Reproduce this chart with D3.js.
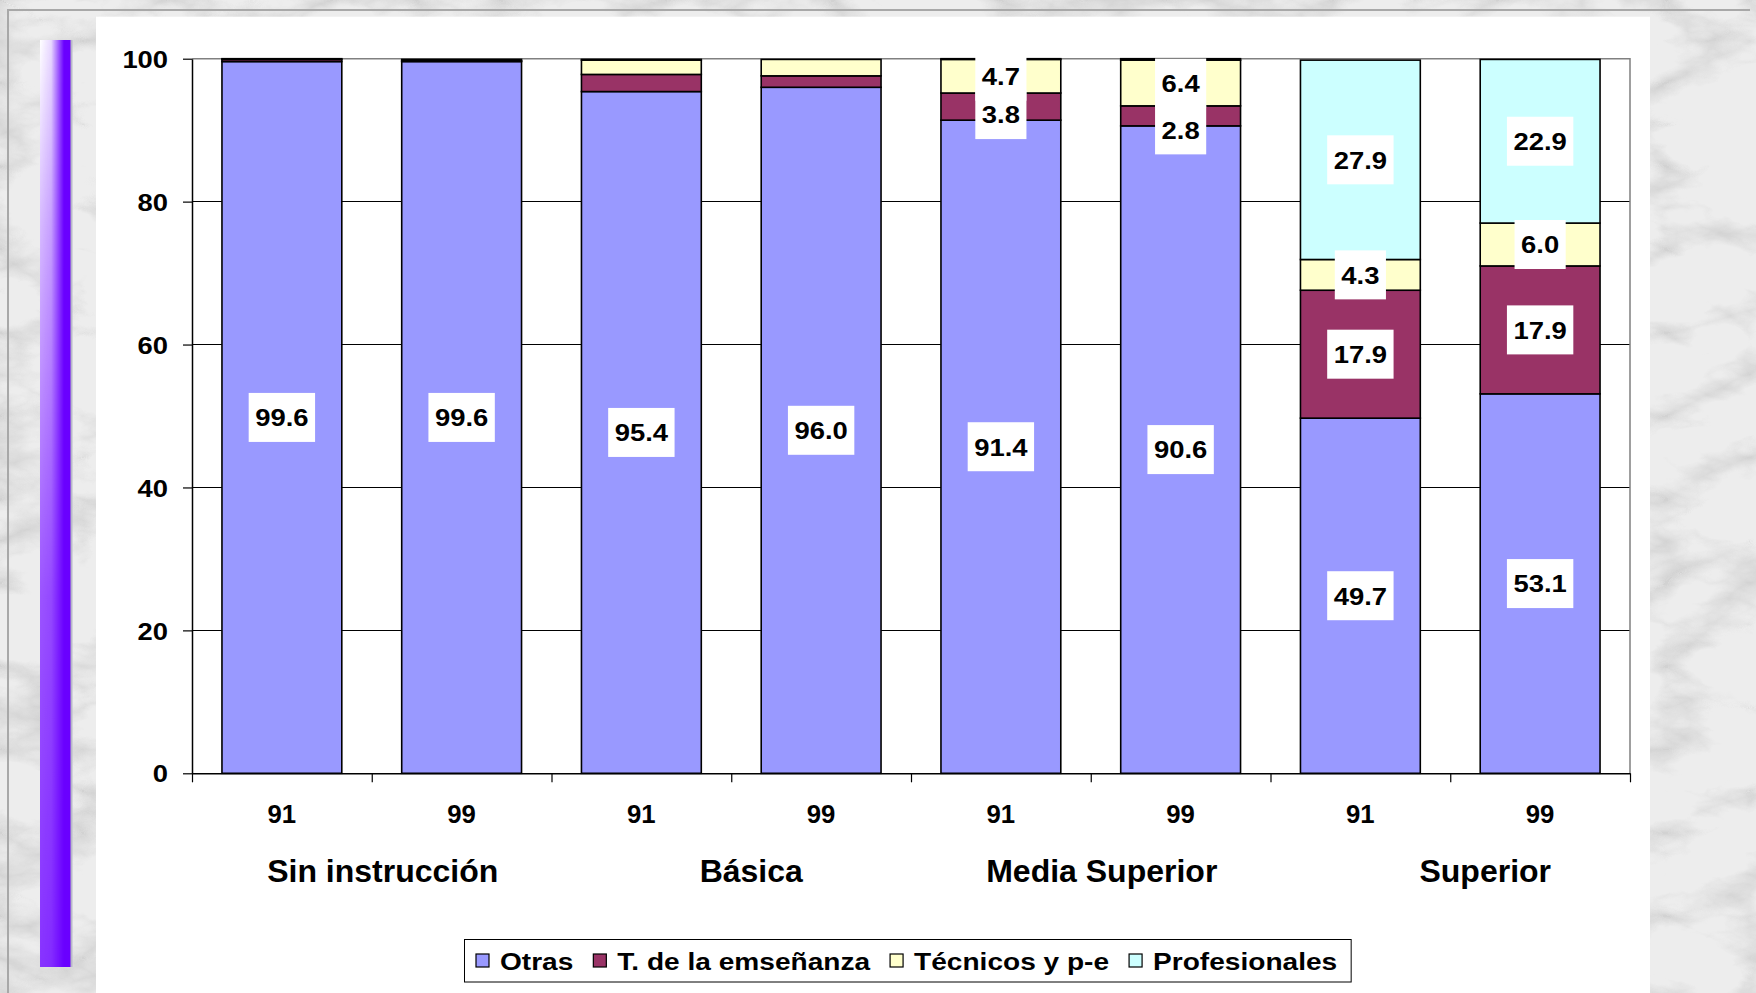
<!DOCTYPE html>
<html>
<head>
<meta charset="utf-8">
<script src="https://cdn.jsdelivr.net/npm/d3@7"></script>
<style>
  html, body { margin: 0; padding: 0; background: #e6e6e6; }
  svg { display: block; }
  text { font-family: "Liberation Sans", Arial, Helvetica, sans-serif; font-weight: bold; fill: #000; }
</style>
</head>
<body>
<svg id="chart" width="1756" height="993"></svg>
<script>
// ---- data ----
const groups = ["Sin instrucción", "Básica", "Media Superior", "Superior"];
const years = ["91", "99"];
const seriesNames = ["Otras", "T. de la emseñanza", "Técnicos y p-e", "Profesionales"];
const otras         = [99.6, 99.6, 95.4, 96.0, 91.4, 90.6, 49.7, 53.1];
const ensenanza     = [0.3, 0.1, 2.4, 1.6, 3.8, 2.8, 17.9, 17.9];
const tecnicos      = [0.1, 0.2, 2.0, 2.3, 4.7, 6.4, 4.3, 6.0];
const profesionales = [0.0, 0.0, 0.1, 0.0, 0.1, 0.2, 27.9, 22.9];
const yTicks = [0, 20, 40, 60, 80, 100];

// ---- styling / layout ----
const colors = ["#9999ff", "#993366", "#ffffcc", "#ccffff"];
const W = 1756, H = 993;
const plot = { left: 192, right: 1630, top: 58.7, bottom: 773.3 };
const labelMin = 2.5;               // segments thinner than this carry no label
const labelNudge = { "4|1": 8, "5|1": 14 };   // bar|series -> extra dy
const groupLabelDx = [11, 20, 11, 35];
const FONT = '"Liberation Sans", Arial, Helvetica, sans-serif';

const svg = d3.select("#chart");
const defs = svg.append("defs");

// marble backdrop
const marble = defs.append("filter").attr("id", "marble")
  .attr("x", 0).attr("y", 0).attr("width", "100%").attr("height", "100%");
marble.append("feTurbulence").attr("type", "turbulence")
  .attr("baseFrequency", "0.006 0.012").attr("numOctaves", 5).attr("seed", 7).attr("result", "t");
marble.append("feColorMatrix").attr("in", "t").attr("type", "matrix")
  .attr("values", "0 0 0 0 0.5  0 0 0 0 0.5  0 0 0 0 0.5  -2.2 0 0 0 0.75");
svg.append("rect").attr("width", W).attr("height", H).attr("fill", "#ededed");
svg.append("rect").attr("width", W).attr("height", H).attr("filter", "url(#marble)").attr("opacity", 0.75);

// thin outer frame
svg.append("path")
  .attr("d", `M8,${H} V10 H${W - 6}`)
  .attr("fill", "none").attr("stroke", "#a8a8a8").attr("stroke-width", 2);

// white chart panel
svg.append("rect").attr("x", 96).attr("y", 16.7).attr("width", 1650 - 96).attr("height", H - 16.7)
  .attr("fill", "#ffffff");

// decorative purple strip
const hg = defs.append("linearGradient").attr("id", "stripH").attr("x1", 0).attr("x2", 1).attr("y1", 0).attr("y2", 0);
[[0, "#ffffff", 1], [0.35, "#ffffff", 0.85], [0.75, "#ffffff", 0.0], [1, "#ffffff", 0]].forEach(s =>
  hg.append("stop").attr("offset", s[0]).attr("stop-color", s[1]).attr("stop-opacity", s[2]));
const vg = defs.append("linearGradient").attr("id", "stripV").attr("x1", 0).attr("x2", 0).attr("y1", 0).attr("y2", 1);
[[0, "#ffffff"], [0.2, "#bbbbbb"], [0.6, "#555555"], [1, "#333333"]].forEach(s =>
  vg.append("stop").attr("offset", s[0]).attr("stop-color", s[1]));
const mask = defs.append("mask").attr("id", "stripMask");
mask.append("rect").attr("x", 40).attr("y", 40).attr("width", 32).attr("height", 927).attr("fill", "url(#stripV)");
svg.append("rect").attr("x", 40).attr("y", 40).attr("width", 32).attr("height", 927).attr("fill", "#6a00ff");
svg.append("rect").attr("x", 40).attr("y", 40).attr("width", 32).attr("height", 927)
  .attr("fill", "url(#stripH)").attr("mask", "url(#stripMask)");
svg.append("rect").attr("x", 70.5).attr("y", 40).attr("width", 2).attr("height", 927).attr("fill", "#b8b8c8");

// ---- scales ----
const bars = [];
groups.forEach((g, gi) => years.forEach((yv, yi) => bars.push({ key: g + "|" + yv, group: g, year: yv, i: gi * years.length + yi })));
const seriesArrays = [otras, ensenanza, tecnicos, profesionales];
const table = bars.map((b, i) => {
  const row = { key: b.key, year: b.year, i };
  seriesNames.forEach((s, si) => row[s] = seriesArrays[si][i]);
  return row;
});

const x = d3.scaleBand().domain(bars.map(b => b.key))
  .range([plot.left, plot.right]).paddingInner(1 / 3).paddingOuter(1 / 6);
const xEdges = d3.scaleLinear().domain([0, bars.length]).range([plot.left, plot.right]);
const y = d3.scaleLinear().domain([0, 100]).range([plot.bottom, plot.top]);

const stacked = d3.stack().keys(seriesNames)(table);

// plot area
const g = svg.append("g");
g.append("rect").attr("x", plot.left).attr("y", plot.top)
  .attr("width", plot.right - plot.left).attr("height", plot.bottom - plot.top).attr("fill", "#fff");

// gridlines
g.append("g").selectAll("line").data(yTicks.filter(t => t > 0 && t < 100)).join("line")
  .attr("x1", plot.left).attr("x2", plot.right)
  .attr("y1", d => y(d)).attr("y2", d => y(d))
  .attr("stroke", "#000").attr("stroke-width", 1).attr("shape-rendering", "crispEdges");

// plot border (top and right)
g.append("path").attr("d", `M${plot.left},${y(100)} H${plot.right} V${plot.bottom}`)
  .attr("fill", "none").attr("stroke", "#808080").attr("stroke-width", 1.5);

// stacked bars
g.append("g").selectAll("g").data(stacked).join("g")
  .attr("fill", (d, i) => colors[i])
  .selectAll("rect").data(d => d.filter(p => p[1] - p[0] > 0)).join("rect")
  .attr("x", d => x(d.data.key))
  .attr("width", x.bandwidth())
  .attr("y", d => y(d[1]))
  .attr("height", d => y(d[0]) - y(d[1]))
  .attr("stroke", "#000").attr("stroke-width", 1.6);

// y axis
const yAxis = g.append("g").attr("transform", `translate(${plot.left},0)`)
  .call(d3.axisLeft(y).tickValues(yTicks).tickSize(9).tickSizeOuter(0).tickFormat(d3.format("d")));
yAxis.select(".domain").attr("stroke", "#000").attr("stroke-width", 1.5);
yAxis.selectAll(".tick line").attr("stroke", "#000").attr("stroke-width", 1.2);
const ySx = 1.14;
yAxis.selectAll(".tick text")
  .attr("font-family", FONT).attr("font-weight", "bold").attr("font-size", 24)
  .attr("x", -24 / ySx).attr("dy", "0.36em").attr("transform", `scale(${ySx},1)`);

// x axis: boundary ticks plus year labels
const xTickAxis = g.append("g").attr("transform", `translate(0,${plot.bottom})`)
  .call(d3.axisBottom(xEdges).ticks(bars.length).tickSize(9).tickSizeOuter(0).tickFormat(""));
xTickAxis.select(".domain").attr("stroke", "#000").attr("stroke-width", 1.5);
xTickAxis.selectAll(".tick line").attr("stroke", "#000").attr("stroke-width", 1.2);

const xLabelAxis = g.append("g").attr("transform", `translate(0,${plot.bottom})`)
  .call(d3.axisBottom(x).tickSize(0).tickFormat(k => k.split("|")[1]));
xLabelAxis.select(".domain").remove();
xLabelAxis.selectAll(".tick text")
  .attr("font-family", FONT).attr("font-weight", "bold").attr("font-size", 25)
  .attr("y", 41).attr("dy", "0.35em").attr("transform", "scale(1.03,1)");

// group labels
g.append("g").selectAll("text").data(groups).join("text")
  .attr("x", (d, i) => (x(d + "|" + years[0]) + x(d + "|" + years[years.length - 1]) + x.bandwidth()) / 2 + groupLabelDx[i])
  .attr("y", 871).attr("dy", "0.35em")
  .attr("text-anchor", "middle").attr("font-size", 32)
  .text(d => d);

// data labels
const fmt = d3.format(".1f");
const labelSx = 1.12;
const labels = [];
stacked.forEach((s, si) => s.forEach((p, bi) => {
  const v = p[1] - p[0];
  if (v >= labelMin) labels.push({ v, si, bi, cx: x(p.data.key) + x.bandwidth() / 2,
    cy: y((p[0] + p[1]) / 2) + (labelNudge[bi + "|" + si] || 0) });
}));
const lg = g.append("g").selectAll("g").data(labels).join("g")
  .attr("transform", d => `translate(${d.cx},${d.cy})`);
lg.append("text")
  .attr("text-anchor", "middle").attr("dy", "0.36em").attr("font-size", 24.5)
  .attr("transform", `scale(${labelSx},1)`)
  .text(d => fmt(d.v));
lg.each(function () {
  const t = d3.select(this).select("text");
  const w = t.node().getComputedTextLength() * labelSx + 13;
  d3.select(this).insert("rect", "text")
    .attr("x", -w / 2).attr("y", -24.5).attr("width", w).attr("height", 49).attr("fill", "#fff");
});

// legend
const leg = svg.append("g");
const legBox = leg.append("rect").attr("x", 464.5).attr("y", 939.5).attr("height", 42.5)
  .attr("fill", "#fff").attr("stroke", "#000").attr("stroke-width", 1);
const legSx = 1.17;
let lx = 476;
seriesNames.forEach((s, i) => {
  leg.append("rect").attr("x", lx).attr("y", 954).attr("width", 13).attr("height", 13)
    .attr("fill", colors[i]).attr("stroke", "#000").attr("stroke-width", 1.2);
  const t = leg.append("text").attr("transform", `translate(${lx + 24},961) scale(${legSx},1)`)
    .attr("dy", "0.36em").attr("font-size", 24).text(s);
  const w = t.node().getComputedTextLength() * legSx;
  lx += 24 + w + 20;
});
legBox.attr("width", lx - 464.5 - 6);
</script>
</body>
</html>
